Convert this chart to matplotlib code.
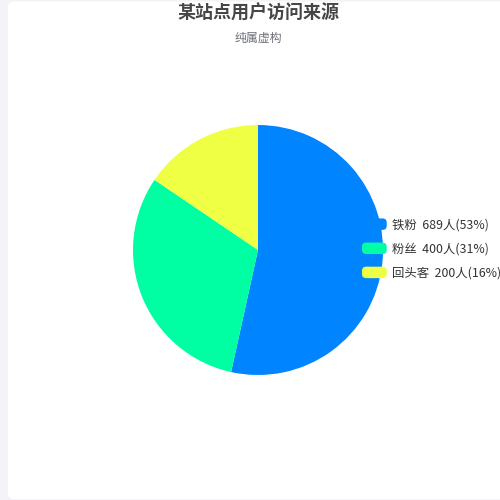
import matplotlib
matplotlib.use("Agg")
import matplotlib.pyplot as plt
from matplotlib.patches import FancyBboxPatch
from matplotlib.legend_handler import HandlerPatch

plt.rcParams['font.family'] = ['Noto Sans CJK SC', 'DejaVu Sans']

title = "某站点用户访问来源"
subtitle = "纯属虚构"
categories = ["铁粉", "粉丝", "回头客"]
values = [689, 400, 200]
colors = ["#0084FF", "#00FFA2", "#EEFF44"]

total = sum(values)
labels = [f"{c}  {v}人({round(v / total * 100)}%)" for c, v in zip(categories, values)]

fig = plt.figure(figsize=(5, 5), dpi=100)
fig.patch.set_facecolor("#F3F3F8")
panel = FancyBboxPatch((8 / 500, 1 / 500), 2.0, 497.5 / 500,
                       boxstyle="round,pad=0,rounding_size=0.012",
                       transform=fig.transFigure, facecolor="white",
                       edgecolor="none", zorder=-10)
fig.patches.append(panel)

ax = fig.add_axes([0, 0, 1, 1])
ax.set_zorder(5)
ax.set_facecolor("none")
wedges, _ = ax.pie(values, colors=colors, startangle=90, counterclock=False,
                   center=(258, 250), radius=125,
                   wedgeprops=dict(linewidth=0))
ax.set_xlim(0, 500)
ax.set_ylim(0, 500)
ax.set_aspect("equal")
ax.axis("off")

fig.text(258 / 500, 1 - 13 / 500, title, ha="center", va="center",
         fontsize=13, fontweight="bold", color="#464646", zorder=6)
fig.text(258 / 500, 1 - 38 / 500, subtitle, ha="center", va="center",
         fontsize=8.6, color="#6E7079", zorder=6)


def round_patch(legend, orig_handle, xdescent, ydescent, width, height, fontsize):
    return FancyBboxPatch((-xdescent, -ydescent), width, height,
                          boxstyle="round,pad=0,rounding_size=3")


leg = ax.legend(wedges, labels, loc="center left",
                bbox_to_anchor=(362 / 500, 1 - 249 / 500),
                bbox_transform=fig.transFigure,
                frameon=False, fontsize=8.9, labelcolor="#333333",
                handlelength=2.0, handleheight=1.05, handletextpad=0.45,
                labelspacing=0.9, borderpad=0, borderaxespad=0,
                handler_map={w: HandlerPatch(patch_func=round_patch) for w in wedges})

fig.savefig("out.png", dpi=100)
